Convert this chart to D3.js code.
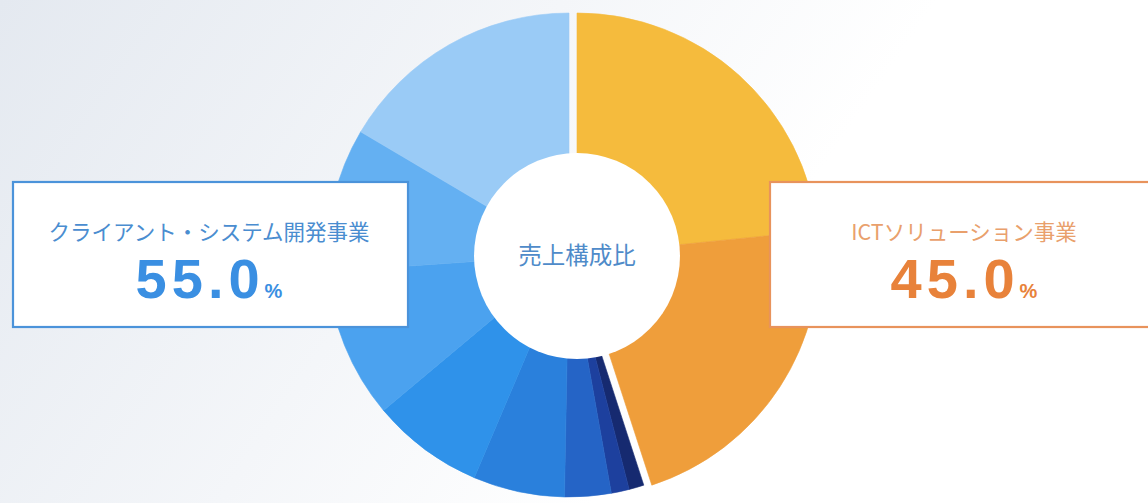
<!DOCTYPE html>
<html>
<head>
<meta charset="utf-8">
<script src="https://cdn.jsdelivr.net/npm/d3@7"></script>
<style>
  html, body { margin: 0; padding: 0; background: #fff; }
  svg { display: block; }
</style>
</head>
<body>
<svg id="chart" width="1148" height="503"></svg>
<script>
// ---- data ----
const segmentNames = ["ICT-A", "ICT-B", "CS-1", "CS-2", "CS-3", "CS-4", "CS-5", "CS-6", "CS-7", "CS-8"];
const segmentValues = [23.4, 21.6, 1.0, 1.2, 3.1, 6.1, 7.5, 10.0, 9.6, 16.5];
const segmentGroups = ["ict", "ict", "cs", "cs", "cs", "cs", "cs", "cs", "cs", "cs"];
const segmentColors = ["#f5bb3d", "#ef9e3b", "#162a70", "#1d409e", "#2564c6", "#2a80dc", "#2f92ea", "#4ba2ef", "#64b0f2", "#9acbf6"];

const groupNames = ["クライアント・システム開発事業", "ICTソリューション事業"];
const groupShares = ["55.0", "45.0"];
const centerLabel = "売上構成比";

// ---- drawing ----
const svg = d3.select("#chart");
const W = 1148, H = 503;

const defs = svg.append("defs");
const bg = defs.append("linearGradient").attr("id", "bg")
  .attr("x1", "0").attr("y1", "0").attr("x2", "1").attr("y2", "0.3");
bg.append("stop").attr("offset", "0").attr("stop-color", "#e4e9f0");
bg.append("stop").attr("offset", "0.45").attr("stop-color", "#f4f6f9");
bg.append("stop").attr("offset", "0.75").attr("stop-color", "#ffffff");
bg.append("stop").attr("offset", "1").attr("stop-color", "#ffffff");
svg.append("rect").attr("width", W).attr("height", H).attr("fill", "url(#bg)");

const cx = 577, cy = 255, R = 242;
const groupOffset = { ict: [0, 0], cs: [-8, 0] };

const pie = d3.pie().sort(null).value(d => d.v).startAngle(0).endAngle(2 * Math.PI);
const arc = d3.arc().innerRadius(0).outerRadius(R);

const data = segmentValues.map((v, i) => ({ v, name: segmentNames[i], g: segmentGroups[i], c: segmentColors[i] }));
const arcs = pie(data);

const pieG = svg.append("g").attr("transform", `translate(${cx},${cy})`);
pieG.selectAll("path.seg").data(arcs).join("path")
  .attr("class", "seg")
  .attr("transform", d => `translate(${groupOffset[d.data.g][0]},${groupOffset[d.data.g][1]})`)
  .attr("d", arc)
  .attr("fill", d => d.data.c)
  .attr("stroke", d => d.data.c)
  .attr("stroke-width", 0.6);

// hole
svg.append("circle").attr("cx", cx).attr("cy", cy + 1).attr("r", 103).attr("fill", "#ffffff");
svg.append("text").attr("x", cx).attr("y", cy + 9)
  .attr("text-anchor", "middle")
  .attr("font-family", "'Noto Sans CJK JP', sans-serif")
  .attr("font-size", 23.5)
  .attr("fill", "#4f8bc9")
  .text(centerLabel);

// boxes
const boxes = [
  { x: 13, y: 182, w: 395, h: 145, stroke: "#4b93da", title: groupNames[0], tcol: "#4a8dd0", num: groupShares[0], ncol: "#3a8fe2", cxText: 209 },
  { x: 770, y: 182, w: 400, h: 145, stroke: "#e8935c", title: groupNames[1], tcol: "#e9a06c", num: groupShares[1], ncol: "#e8823a", cxText: 964 }
];
boxes.forEach(b => {
  svg.append("rect").attr("x", b.x).attr("y", b.y).attr("width", b.w).attr("height", b.h)
    .attr("fill", "#ffffff")
    .attr("stroke", b.stroke).attr("stroke-width", 2.2);
  svg.append("text").attr("x", b.cxText).attr("y", 240)
    .attr("text-anchor", "middle")
    .attr("font-family", "'Noto Sans CJK JP', sans-serif")
    .attr("font-size", 21.5)
    .attr("fill", b.tcol)
    .text(b.title);
  const t = svg.append("text").attr("x", b.cxText).attr("y", 298)
    .attr("text-anchor", "middle")
    .attr("font-family", "'Liberation Sans', Arial, sans-serif")
    .attr("font-weight", "bold")
    .attr("fill", b.ncol);
  t.append("tspan").attr("font-size", 56).attr("letter-spacing", 5).text(b.num);
  t.append("tspan").attr("font-size", 20).attr("dx", 0).text("%");
});
</script>
</body>
</html>
